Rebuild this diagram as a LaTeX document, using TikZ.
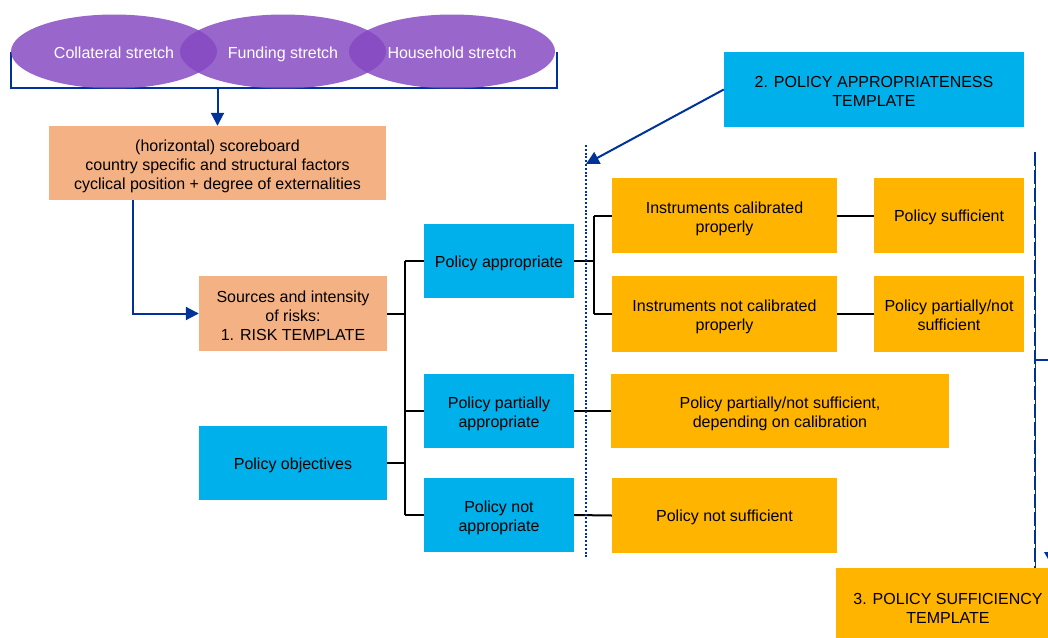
\documentclass[tikz,border=0pt]{standalone}
\usepackage{fontspec}
\setmainfont{Liberation Sans}
\usetikzlibrary{arrows.meta,shapes.geometric}
\definecolor{salmon}{RGB}{244,177,131}
\definecolor{cyanb}{RGB}{0,176,234}
\definecolor{gold}{RGB}{255,180,0}
\definecolor{dblue}{RGB}{0,51,153}
\definecolor{purp}{RGB}{133,71,194}
\newcommand{\fsz}{\fontsize{16}{19}\selectfont}
\tikzset{
  bx/.style n args={2}{inner sep=0pt, minimum width=#1pt, minimum height=#2pt, align=center, font=\fsz, text=black, text height=15.8pt, text depth=3.5pt},
  two/.style={text height=36.6pt},
  three/.style={text height=56.6pt},
  oval/.style={ellipse, inner sep=0pt, minimum width=206pt, minimum height=74pt, fill=purp, fill opacity=0.83, text opacity=1, text=white, font=\fsz, text height=17.6pt, text depth=3.5pt},
  conn/.style={draw=black, line width=2pt},
  bline/.style={draw=dblue, line width=2pt},
  arr/.style={draw=dblue, line width=2pt, -{Triangle[length=13pt,width=13pt]}},
}
\begin{document}
\begin{tikzpicture}[x=1pt,y=-1pt]
\clip (0,0) rectangle (1048,637);
\fill[white] (0,0) rectangle (1048,637);
% bracket
\coordinate (bl) at (11,52);
\coordinate (br) at (557,52);
\coordinate (brk) at (217.5,88);
\draw[bline] (bl) -- (11,88) -- (557,88) -- (br);
% ellipses
\node[oval] (coll) at (114,51.5) {Collateral stretch};
\node[oval] (fund) at (283,51.5) {Funding stretch};
\node[oval] (hous) at (452,51.5) {Household stretch};
% boxes
\node[bx={337}{74}, three, fill=salmon] (score) at (217.5,163) {(horizontal) scoreboard\\country specific and structural factors\\cyclical position + degree of externalities};
\node[bx={188}{75}, three, fill=salmon] (risk) at (293,313.5) {Sources and intensity\\of risks:\\1. RISK TEMPLATE};
\node[bx={188}{74}, fill=cyanb] (obj) at (293,463) {Policy objectives};
\node[bx={150}{74}, fill=cyanb] (pa) at (499,261) {Policy appropriate};
\node[bx={150}{74}, two, fill=cyanb] (ppa) at (499,411) {Policy partially\\appropriate};
\node[bx={150}{74}, two, fill=cyanb] (pna) at (499,515) {Policy not\\appropriate};
\node[bx={225}{75}, two, fill=gold] (icp) at (724.5,215.5) {Instruments calibrated\\properly};
\node[bx={150}{75}, fill=gold] (ps) at (949,215.5) {Policy sufficient};
\node[bx={225}{76}, two, fill=gold] (incp) at (724.5,314) {Instruments not calibrated\\properly};
\node[bx={150}{76}, two, fill=gold] (ppns) at (949,314) {Policy partially/not\\sufficient};
\node[bx={338}{74}, two, fill=gold] (ppnsd) at (780,411) {Policy partially/not sufficient,\\depending on calibration};
\node[bx={225}{75}, fill=gold] (pns) at (724.5,515.5) {Policy not sufficient};
\node[bx={300}{75}, two, fill=cyanb] (t2) at (874,89.5) {2. POLICY APPROPRIATENESS\\TEMPLATE};
\node[bx={224}{78}, two, fill=gold] (t3) at (948,607) {3. POLICY SUFFICIENCY\\TEMPLATE};
% tree connectors
\coordinate (jA) at (405,261);
\coordinate (jB) at (405,515);
\draw[conn] (jA) -- (jB);
\draw[conn] (risk.east) -- (risk.east -| jA);
\draw[conn] (obj.east) -- (obj.east -| jA);
\draw[conn] (jA) -- (pa.west);
\draw[conn] (ppa.west -| jA) -- (ppa.west);
\draw[conn] (jB) -- (pna.west);
\coordinate (jC) at (594,215.5);
\coordinate (jD) at (594,314);
\draw[conn] (pa.east) -- (pa.east -| jC);
\draw[conn] (jC) -- (jD);
\draw[conn] (jC) -- (icp.west);
\draw[conn] (jD) -- (incp.west);
\draw[conn] (icp.east) -- (ps.west);
\draw[conn] (incp.east) -- (ppns.west);
\draw[conn] (ppa.east) -- (ppnsd.west);
\draw[conn] (pna.east) -- (pns.west);
% dotted separator
\coordinate (dtop) at (586,145);
\coordinate (dbot) at (586,557);
\coordinate (dtip) at (586,164);
\draw[draw=dblue, line width=2.2pt, dash pattern=on 2pt off 1.8pt] (dtop) -- (dbot);
% right dashed line
\coordinate (rtop) at (1035,152);
\coordinate (rbot) at (1035,568);
\coordinate (rmid) at (1035,360);
\coordinate (redge) at (1048,360);
\draw[draw=dblue, line width=0.8pt] (rtop) -- (rbot);
\draw[draw=dblue, line width=2.6pt, dash pattern=on 14pt off 4pt] (rtop) -- (rbot);
\draw[bline] (rmid) -- (redge);
\fill[dblue] (1044,552) -- (1052,552) -- (1048,559) -- cycle;
% arrows
\coordinate (sa) at (133,200);
\draw[arr] (brk) -- (score.north);
\draw[arr] (sa) |- (risk.west);
\draw[arr] (t2.west) -- (dtip);
\end{tikzpicture}
\end{document}
